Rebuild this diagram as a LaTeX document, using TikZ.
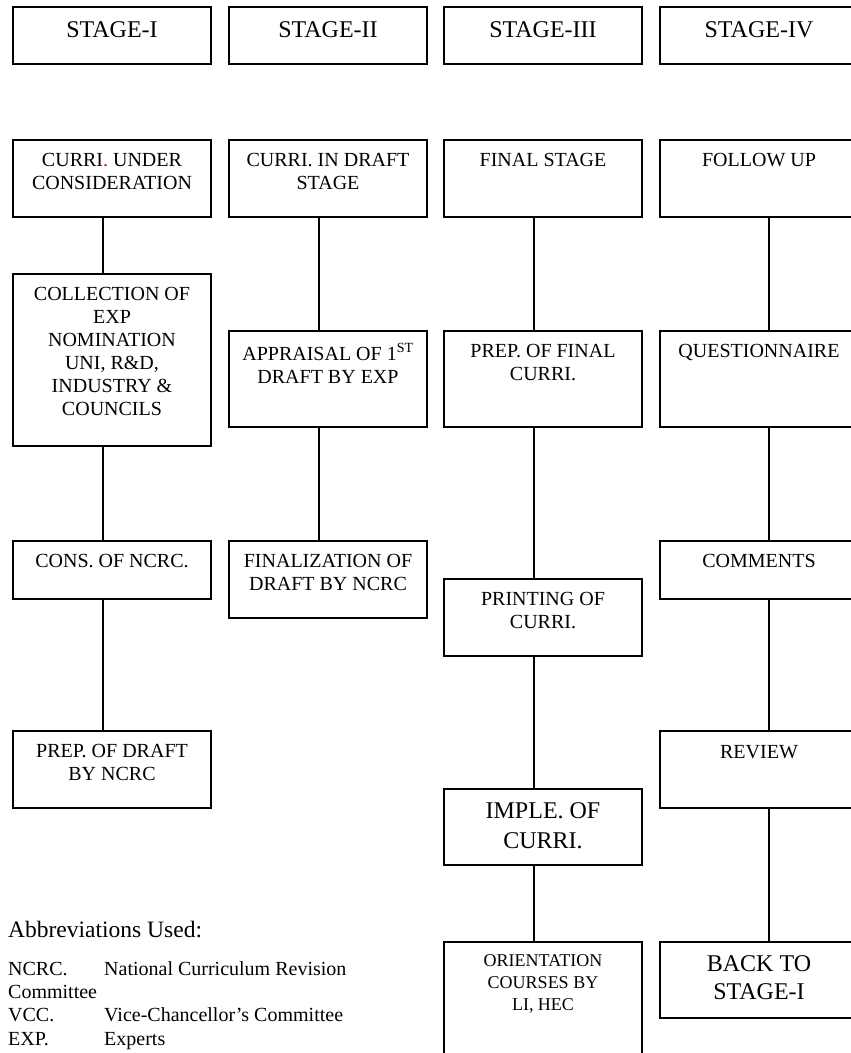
\documentclass[tikz,border=0pt]{standalone}
\usepackage{fontspec}
\setmainfont{Liberation Serif}
\usepackage{xcolor}

\begin{document}
\begin{tikzpicture}[x=1pt,y=-1pt,
    stagebox/.style={draw,line width=2pt,minimum width=198pt,inner sep=0pt,anchor=north west},
    boxtext/.style={anchor=north,yshift=-14pt,inner sep=0pt,align=center,font=\fontsize{20}{23}\selectfont},
    bigtext/.style={boxtext,font=\fontsize{24}{29}\selectfont},
    smalltext/.style={boxtext,font=\fontsize{18}{22}\selectfont},
    link/.style={line width=2pt},
    abbr/.style={anchor=base west,inner sep=0pt,font=\fontsize{20}{23}\selectfont}]
    \path[use as bounding box,clip] (0,0) rectangle (851,1053);

    % stage headers
    \node[stagebox,minimum height=57pt] (st1) at (12,6) {};
    \node[bigtext,yshift=-1pt] (st1t) at (st1.north) {STAGE-I};
    \node[stagebox,minimum height=57pt] (st2) at (228,6) {};
    \node[bigtext,yshift=-1pt] (st2t) at (st2.north) {STAGE-II};
    \node[stagebox,minimum height=57pt] (st3) at (443,6) {};
    \node[bigtext,yshift=-1pt] (st3t) at (st3.north) {STAGE-III};
    \node[stagebox,minimum height=57pt] (st4) at (659,6) {};
    \node[bigtext,yshift=-1pt] (st4t) at (st4.north) {STAGE-IV};

    % stage I
    \node[stagebox,minimum height=77pt] (under) at (12,139) {};
    \node[boxtext] (undert) at (under.north) {CURRI\textcolor{red}{.} UNDER\\CONSIDERATION};
    \node[stagebox,minimum height=172pt] (collect) at (12,273) {};
    \node[boxtext] (collectt) at (collect.north) {COLLECTION OF\\EXP\\NOMINATION\\UNI, R\&D,\\INDUSTRY \&\\COUNCILS};
    \node[stagebox,minimum height=58pt] (cons) at (12,540) {};
    \node[boxtext] (const) at (cons.north) {CONS. OF NCRC.};
    \node[stagebox,minimum height=77pt] (prepdraft) at (12,730) {};
    \node[boxtext] (prepdraftt) at (prepdraft.north) {PREP. OF DRAFT\\BY NCRC};

    % stage II
    \node[stagebox,minimum height=77pt] (draft) at (228,139) {};
    \node[boxtext] (draftt) at (draft.north) {CURRI. IN DRAFT\\STAGE};
    \node[stagebox,minimum height=96pt] (apprai) at (228,330) {};
    \node[boxtext,yshift=1pt] (apprait) at (apprai.north) {APPRAISAL OF 1\textsuperscript{ST}\\DRAFT BY EXP};
    \node[stagebox,minimum height=77pt] (finali) at (228,540) {};
    \node[boxtext] (finalit) at (finali.north) {FINALIZATION OF\\DRAFT BY NCRC};

    % stage III
    \node[stagebox,minimum height=77pt] (final) at (443,139) {};
    \node[boxtext] (finalt) at (final.north) {FINAL STAGE};
    \node[stagebox,minimum height=96pt] (prepfinal) at (443,330) {};
    \node[boxtext] (prepfinalt) at (prepfinal.north) {PREP. OF FINAL\\CURRI.};
    \node[stagebox,minimum height=77pt] (print) at (443,578) {};
    \node[boxtext] (printt) at (print.north) {PRINTING OF\\CURRI.};
    \node[stagebox,minimum height=76pt] (imple) at (443,788) {};
    \node[bigtext,font=\fontsize{24}{30}\selectfont] (implet) at (imple.north) {IMPLE. OF\\CURRI.};
    \node[stagebox,minimum height=140pt] (orient) at (443,941) {};
    \node[smalltext,yshift=1pt] (orientt) at (orient.north) {ORIENTATION\\COURSES BY\\LI, HEC};

    % stage IV
    \node[stagebox,minimum height=77pt] (follow) at (659,139) {};
    \node[boxtext] (followt) at (follow.north) {FOLLOW UP};
    \node[stagebox,minimum height=96pt] (quest) at (659,330) {};
    \node[boxtext] (questt) at (quest.north) {QUESTIONNAIRE};
    \node[stagebox,minimum height=58pt] (comment) at (659,540) {};
    \node[boxtext] (commentt) at (comment.north) {COMMENTS};
    \node[stagebox,minimum height=77pt] (review) at (659,730) {};
    \node[boxtext,yshift=-1pt] (reviewt) at (review.north) {REVIEW};
    \node[stagebox,minimum height=76pt] (back) at (659,941) {};
    \node[bigtext,font=\fontsize{24}{28}\selectfont] (backt) at (back.north) {BACK TO\\STAGE-I};

    % connectors
    \draw[link] ([xshift=-9pt]under.south) -- ([xshift=-9pt]collect.north);
    \draw[link] ([xshift=-9pt]collect.south) -- ([xshift=-9pt]cons.north);
    \draw[link] ([xshift=-9pt]cons.south) -- ([xshift=-9pt]prepdraft.north);
    \draw[link] ([xshift=-9pt]draft.south) -- ([xshift=-9pt]apprai.north);
    \draw[link] ([xshift=-9pt]apprai.south) -- ([xshift=-9pt]finali.north);
    \draw[link] ([xshift=-9pt]final.south) -- ([xshift=-9pt]prepfinal.north);
    \draw[link] ([xshift=-9pt]prepfinal.south) -- ([xshift=-9pt]print.north);
    \draw[link] ([xshift=-9pt]print.south) -- ([xshift=-9pt]imple.north);
    \draw[link] ([xshift=-9pt]imple.south) -- ([xshift=-9pt]orient.north);
    \draw[link] ([xshift=10pt]follow.south) -- ([xshift=10pt]quest.north);
    \draw[link] ([xshift=10pt]quest.south) -- ([xshift=10pt]comment.north);
    \draw[link] ([xshift=10pt]comment.south) -- ([xshift=10pt]review.north);
    \draw[link] ([xshift=10pt]review.south) -- ([xshift=10pt]back.north);

    % abbreviations
    \node[abbr,font=\fontsize{23.5}{28}\selectfont] (abbrhead) at (8,937) {Abbreviations Used:};
    \node[abbr] (ncrc) at (8,975) {NCRC.};
    \node[abbr] (ncrcdef) at (104,975) {National Curriculum Revision};
    \node[abbr] (ncrcwrap) at (8,998) {Committee};
    \node[abbr] (vcc) at (8,1021.5) {VCC.};
    \node[abbr] (vccdef) at (104,1021.5) {Vice-Chancellor’s Committee};
    \node[abbr] (exp) at (8,1045) {EXP.};
    \node[abbr] (expdef) at (104,1045) {Experts};
\end{tikzpicture}
\end{document}
